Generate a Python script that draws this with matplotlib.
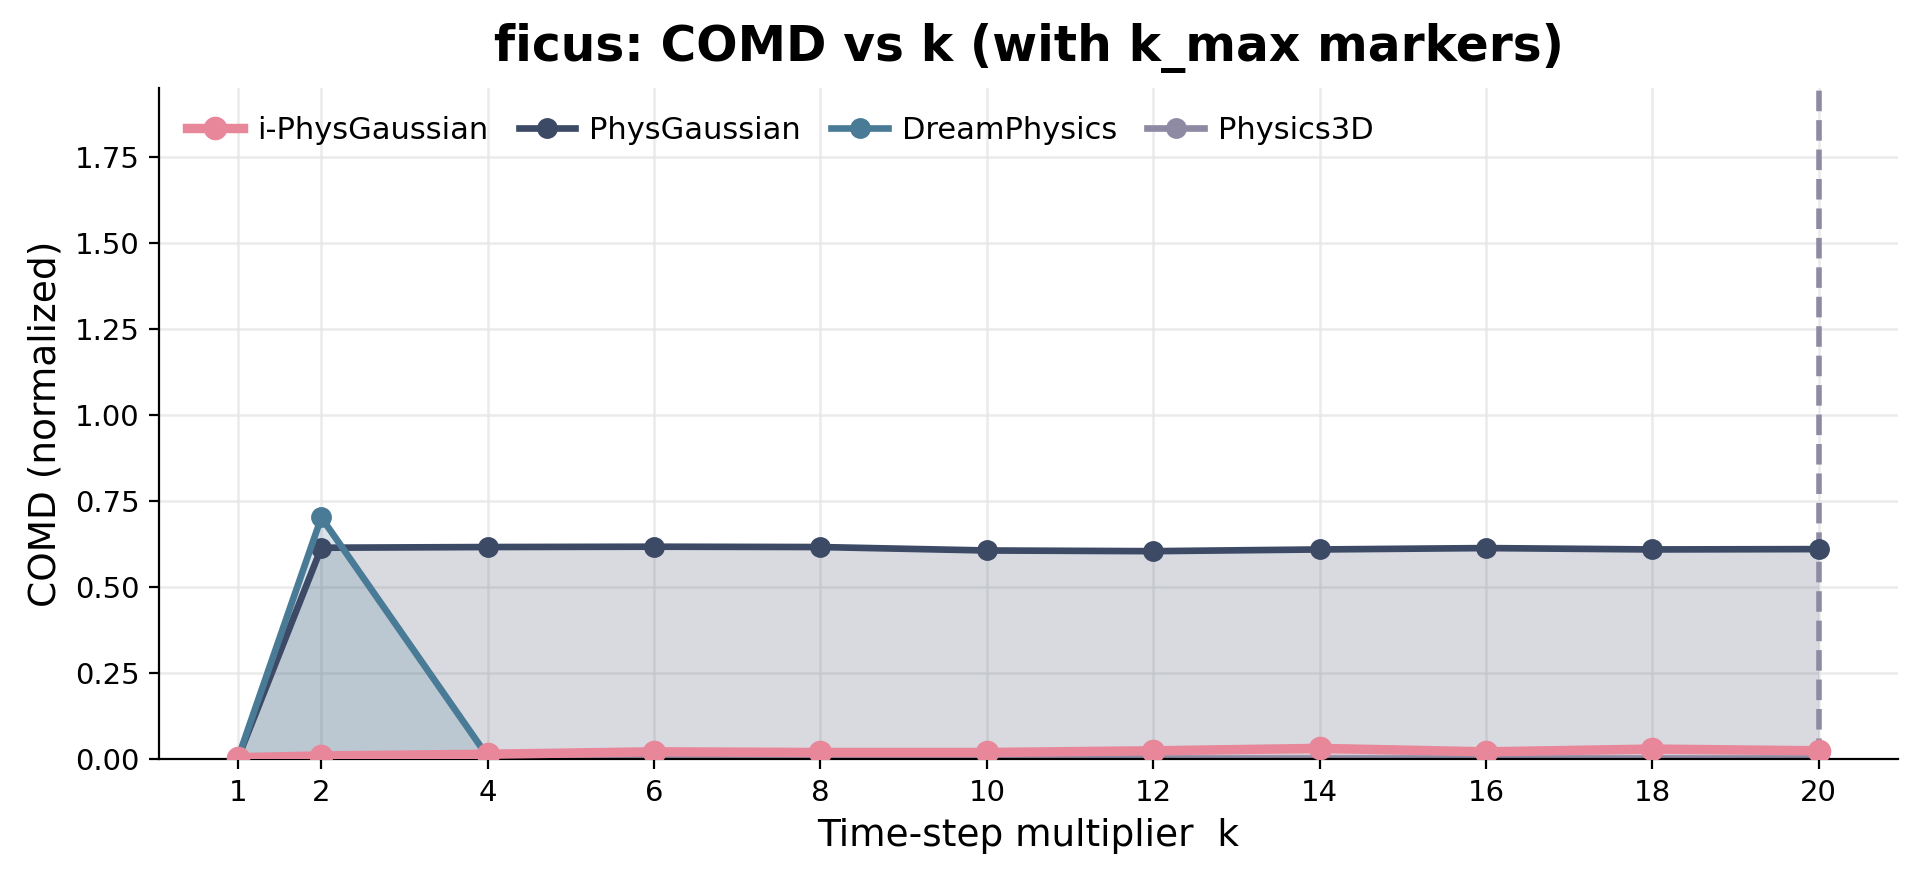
import matplotlib
matplotlib.use("Agg")
import matplotlib.pyplot as plt

k_values = [1, 2, 4, 6, 8, 10, 12, 14, 16, 18, 20]
i_phys = [0.005, 0.010, 0.015, 0.022, 0.020, 0.020, 0.025, 0.032, 0.022, 0.030, 0.025]
phys_gauss = [0.005, 0.615, 0.617, 0.618, 0.617, 0.607, 0.605, 0.610, 0.614, 0.610, 0.611]
dream_k = [1, 2, 4]
dream = [0.005, 0.703, 0.008]
physics3d = [0.003, 0.003, 0.003, 0.003, 0.003, 0.003, 0.003, 0.003, 0.003, 0.003, 0.003]
kmax_physics3d = 20

c_pink = "#e8879a"
c_pg = "#3d4a66"
c_dream = "#4a7b96"
c_p3d = "#8e8aa3"

fig, ax = plt.subplots(figsize=(9.585, 4.415), dpi=200)

ax.plot(k_values, physics3d, color=c_p3d, lw=2.4, marker="o", ms=6.5, label="Physics3D", zorder=2)
ax.fill_between(k_values, physics3d, color=c_p3d, alpha=0.2, lw=0)

ax.plot(k_values, phys_gauss, color=c_pg, lw=2.4, marker="o", ms=6.5, label="PhysGaussian", zorder=3)
ax.fill_between(k_values, phys_gauss, color=c_pg, alpha=0.2, lw=0)

ax.plot(dream_k, dream, color=c_dream, lw=2.4, marker="o", ms=6.5, label="DreamPhysics", zorder=4)
ax.fill_between(dream_k, dream, color=c_dream, alpha=0.2, lw=0)

ax.plot(k_values, i_phys, color=c_pink, lw=3.4, marker="o", ms=7.5, label="i-PhysGaussian", zorder=5)
ax.fill_between(k_values, i_phys, color=c_pink, alpha=0.2, lw=0)

ax.axvline(kmax_physics3d, color=c_p3d, ls="--", lw=2, zorder=1)

ax.set_ylim(0, 1.95)
ax.set_xticks(k_values)
ax.grid(True, color="#e6e6e6", lw=0.9, alpha=0.8)
ax.set_axisbelow(True)
for s in ["top", "right"]:
    ax.spines[s].set_visible(False)
ax.tick_params(labelsize=10.5)

ax.set_title("ficus: COMD vs k (with k_max markers)", fontsize=17.5, fontweight="bold", pad=10)
ax.set_xlabel("Time-step multiplier  k", fontsize=13.5)
ax.set_ylabel("COMD (normalized)", fontsize=13.5)

handles, labels = ax.get_legend_handles_labels()
order = ["i-PhysGaussian", "PhysGaussian", "DreamPhysics", "Physics3D"]
hmap = dict(zip(labels, handles))
ax.legend([hmap[o] for o in order], order, loc="upper left", ncol=4, frameon=False,
          fontsize=11, handlelength=1.85, handletextpad=0.45, columnspacing=1.0)

fig.subplots_adjust(left=0.083, right=0.99, bottom=0.14, top=0.9)
fig.savefig("out.png", dpi=200)
